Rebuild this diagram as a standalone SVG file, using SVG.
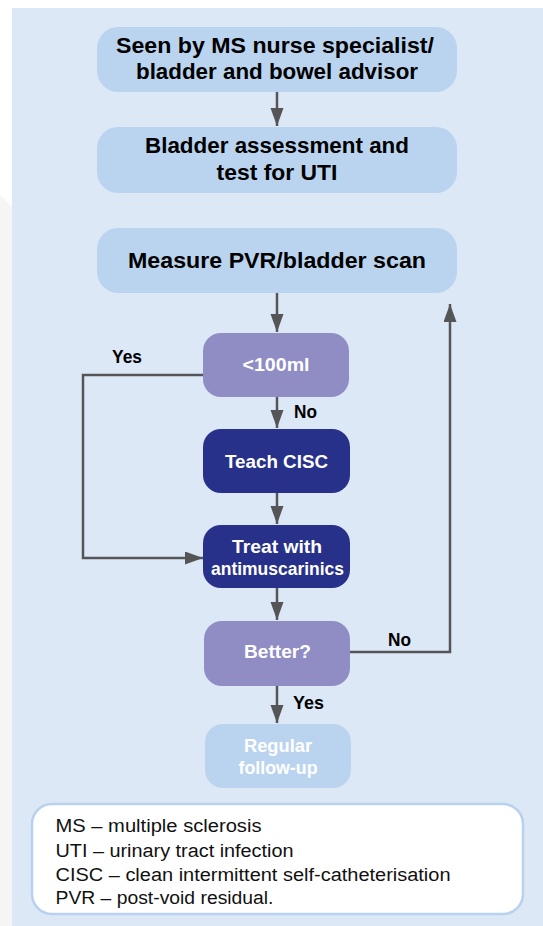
<svg xmlns="http://www.w3.org/2000/svg" width="543" height="926" viewBox="0 0 543 926">
<defs>
<marker id="ah" markerUnits="userSpaceOnUse" markerWidth="18" markerHeight="14" refX="18" refY="6.5" orient="auto">
<path d="M0,0 L18,6.5 L0,13 z" fill="#555557"/>
</marker>
<style>
.lt{fill:#bad4ef}
.pu{fill:#8f8dc4}
.dk{fill:#283189}
.bt{font-family:"Liberation Sans",Arial,sans-serif;font-weight:bold;text-anchor:middle}
.big{font-size:22px;fill:#000}
.sm{font-size:18.5px;fill:#fff}
.lbl{font-family:"Liberation Sans",Arial,sans-serif;font-weight:bold;font-size:18px;fill:#000}
.leg{font-family:"Liberation Sans",Arial,sans-serif;font-size:18px;fill:#111}
.ln{fill:none;stroke:#555557;stroke-width:2.5}
</style>
</defs>
<rect x="0" y="0" width="543" height="926" fill="#ffffff"/>
<polygon points="0,195 12,207 12,926 0,926" fill="#f5f5f5"/>
<rect x="12" y="8" width="531" height="918" fill="#dce8f6"/>

<g id="connectors">
<line class="ln" x1="277" y1="92" x2="277" y2="126" marker-end="url(#ah)"/>
<line class="ln" x1="277" y1="293" x2="277" y2="332" marker-end="url(#ah)"/>
<line class="ln" x1="277" y1="397" x2="277" y2="428" marker-end="url(#ah)"/>
<line class="ln" x1="277" y1="493" x2="277" y2="524" marker-end="url(#ah)"/>
<line class="ln" x1="277" y1="588" x2="277" y2="620" marker-end="url(#ah)"/>
<line class="ln" x1="277" y1="686" x2="277" y2="723" marker-end="url(#ah)"/>
<polyline class="ln" points="203,375 83,375 83,558 203,558" marker-end="url(#ah)"/>
<polyline class="ln" points="350,652 450,652 450,304" marker-end="url(#ah)"/>
<text class="lbl" x="112" y="363" textLength="30" lengthAdjust="spacingAndGlyphs">Yes</text>
<text class="lbl" x="294" y="418" textLength="23" lengthAdjust="spacingAndGlyphs">No</text>
<text class="lbl" x="388" y="646" textLength="23" lengthAdjust="spacingAndGlyphs">No</text>
<text class="lbl" x="293" y="709" textLength="31" lengthAdjust="spacingAndGlyphs">Yes</text>
</g>

<g id="n1">
<rect class="lt" x="97" y="27" width="360" height="65" rx="21"/>
<text class="bt big" x="275" y="53" textLength="318" lengthAdjust="spacingAndGlyphs">Seen by MS nurse specialist/</text>
<text class="bt big" x="277" y="79" textLength="282" lengthAdjust="spacingAndGlyphs">bladder and bowel advisor</text>
</g>
<g id="n2">
<rect class="lt" x="97" y="127" width="360" height="66" rx="21"/>
<text class="bt big" x="277" y="153" textLength="264" lengthAdjust="spacingAndGlyphs">Bladder assessment and</text>
<text class="bt big" x="277" y="180" textLength="121" lengthAdjust="spacingAndGlyphs">test for UTI</text>
</g>
<g id="n3">
<rect class="lt" x="97" y="228" width="360" height="65" rx="21"/>
<text class="bt big" x="277" y="268" textLength="298" lengthAdjust="spacingAndGlyphs">Measure PVR/bladder scan</text>
</g>
<g id="n4">
<rect class="pu" x="203" y="333" width="146" height="64" rx="18"/>
<text class="bt sm" x="276" y="371" textLength="67" lengthAdjust="spacingAndGlyphs">&lt;100ml</text>
</g>
<g id="n5">
<rect class="dk" x="203" y="429" width="147" height="64" rx="18"/>
<text class="bt sm" x="276.5" y="468" textLength="103" lengthAdjust="spacingAndGlyphs">Teach CISC</text>
</g>
<g id="n6">
<rect class="dk" x="203" y="525" width="147" height="63" rx="18"/>
<text class="bt sm" x="277" y="553" textLength="90" lengthAdjust="spacingAndGlyphs">Treat with</text>
<text class="bt sm" x="277.5" y="575" textLength="133" lengthAdjust="spacingAndGlyphs">antimuscarinics</text>
</g>
<g id="n7">
<rect class="pu" x="204" y="621" width="146" height="65" rx="18"/>
<text class="bt sm" x="277.5" y="658" textLength="67" lengthAdjust="spacingAndGlyphs">Better?</text>
</g>
<g id="n8">
<rect class="lt" x="205" y="724" width="146" height="64" rx="18"/>
<text class="bt sm" x="278" y="752" textLength="68" lengthAdjust="spacingAndGlyphs">Regular</text>
<text class="bt sm" x="278" y="774" textLength="79" lengthAdjust="spacingAndGlyphs">follow-up</text>
</g>

<g id="legend">
<rect x="32" y="804" width="491" height="110" rx="20" fill="#ffffff" stroke="#b7d1ee" stroke-width="2.5"/>
<text class="leg" x="55.5" y="832" textLength="206" lengthAdjust="spacingAndGlyphs">MS – multiple sclerosis</text>
<text class="leg" x="55.5" y="857" textLength="238" lengthAdjust="spacingAndGlyphs">UTI – urinary tract infection</text>
<text class="leg" x="55.5" y="881" textLength="395" lengthAdjust="spacingAndGlyphs">CISC – clean intermittent self-catheterisation</text>
<text class="leg" x="55.5" y="904" textLength="218" lengthAdjust="spacingAndGlyphs">PVR – post-void residual.</text>
</g>
</svg>
